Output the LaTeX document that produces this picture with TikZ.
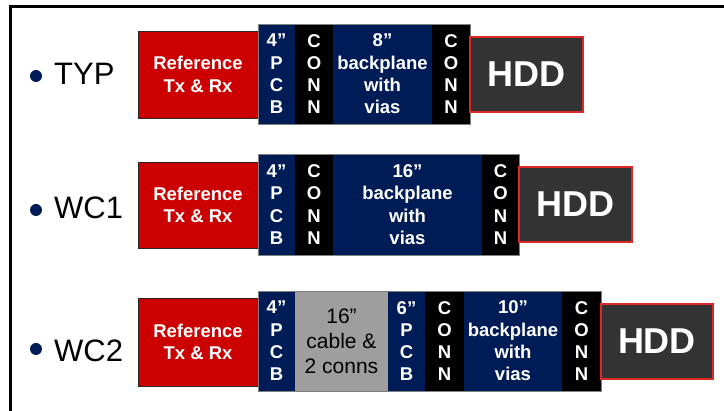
\documentclass[tikz,border=0pt]{standalone}
\usepackage{fontspec}
\setmainfont{Liberation Sans}
\definecolor{refred}{RGB}{204,0,0}
\definecolor{navyblue}{RGB}{0,28,86}
\definecolor{hddgray}{RGB}{51,51,51}
\definecolor{hddred}{RGB}{220,40,40}
\definecolor{cablegray}{RGB}{158,158,158}
\tikzset{
  blk/.style={anchor=north west, inner sep=0pt, outer sep=0pt, align=center,
    text=white, font=\bfseries\fontsize{18.5}{22.3}\selectfont},
  sz/.style 2 args={minimum width=#1pt, minimum height=#2pt},
  refbox/.style={blk, fill=refred, draw=black!85, line width=0.8pt},
  pcb/.style={blk, fill=navyblue},
  conn/.style={blk, fill=black},
  bplane/.style={blk, fill=navyblue},
  cable/.style={blk, fill=cablegray, text=black, font=\fontsize{21}{25}\selectfont},
  hdd/.style={blk, fill=hddgray, draw=hddred, line width=1.2pt,
    font=\bfseries\fontsize{36}{40}\selectfont},
  grp/.style={draw=gray, line width=0.8pt},
  case/.style={anchor=base west, inner sep=0pt, font=\fontsize{31}{31}\selectfont},
  dot/.style={circle, fill=navyblue, inner sep=0pt, minimum size=12pt}
}
\begin{document}
\begin{tikzpicture}[x=1pt, y=-1pt]
  \useasboundingbox (0,0) rectangle (724,411);
  \draw[line width=3pt] (10.5,411) -- (10.5,6.5) -- (724,6.5);

  % TYP
  \node[dot] (dotA) at (36,76) {};
  \node[case] (typ) at (54,85) {TYP};
  \node[refbox, sz={120}{87}] (refA) at (138,31) {Reference\\Tx \& Rx};
  \node[pcb, sz={37}{100}] (pcbA) at (258,24) {4”\\P\\C\\B};
  \node[conn, sz={38}{100}] (connA1) at (295,24) {C\\O\\N\\N};
  \node[bplane, sz={99}{100}] (bpA) at (333,24) {8”\\backplane\\with\\vias};
  \node[conn, sz={38}{100}] (connA2) at (432,24) {C\\O\\N\\N};
  \draw[grp] (pcbA.north west) rectangle (connA2.south east);
  \node[hdd, sz={113}{75}] (hddA) at (470,37) {HDD};

  % WC1
  \node[dot] (dotB) at (36,210) {};
  \node[case] (wc1) at (54,219) {WC1};
  \node[refbox, sz={120}{86}] (refB) at (138,162) {Reference\\Tx \& Rx};
  \node[pcb, sz={37}{101}] (pcbB) at (258,154) {4”\\P\\C\\B};
  \node[conn, sz={38}{101}] (connB1) at (295,154) {C\\O\\N\\N};
  \node[bplane, sz={149}{101}] (bpB) at (333,154) {16”\\backplane\\with\\vias};
  \node[conn, sz={37}{101}] (connB2) at (482,154) {C\\O\\N\\N};
  \draw[grp] (pcbB.north west) rectangle (connB2.south east);
  \node[hdd, sz={113}{75}] (hddB) at (519,167) {HDD};

  % WC2
  \node[dot] (dotC) at (36,349) {};
  \node[case] (wc2) at (54,362) {WC2};
  \node[refbox, sz={120}{88}] (refC) at (138,298) {Reference\\Tx \& Rx};
  \node[pcb, sz={37}{100}] (pcbC) at (258,291) {4”\\P\\C\\B};
  \node[cable, sz={93}{100}] (cableC) at (295,291) {16”\\cable \&\\2 conns};
  \node[pcb, sz={37}{100}] (pcbC2) at (388,291) {6”\\P\\C\\B};
  \node[conn, sz={39}{100}] (connC1) at (425,291) {C\\O\\N\\N};
  \node[bplane, sz={98}{100}] (bpC) at (464,291) {10”\\backplane\\with\\vias};
  \node[conn, sz={39}{100}] (connC2) at (562,291) {C\\O\\N\\N};
  \draw[grp] (pcbC.north west) rectangle (connC2.south east);
  \node[hdd, sz={112}{75}] (hddC) at (601,304) {HDD};
\end{tikzpicture}
\end{document}
